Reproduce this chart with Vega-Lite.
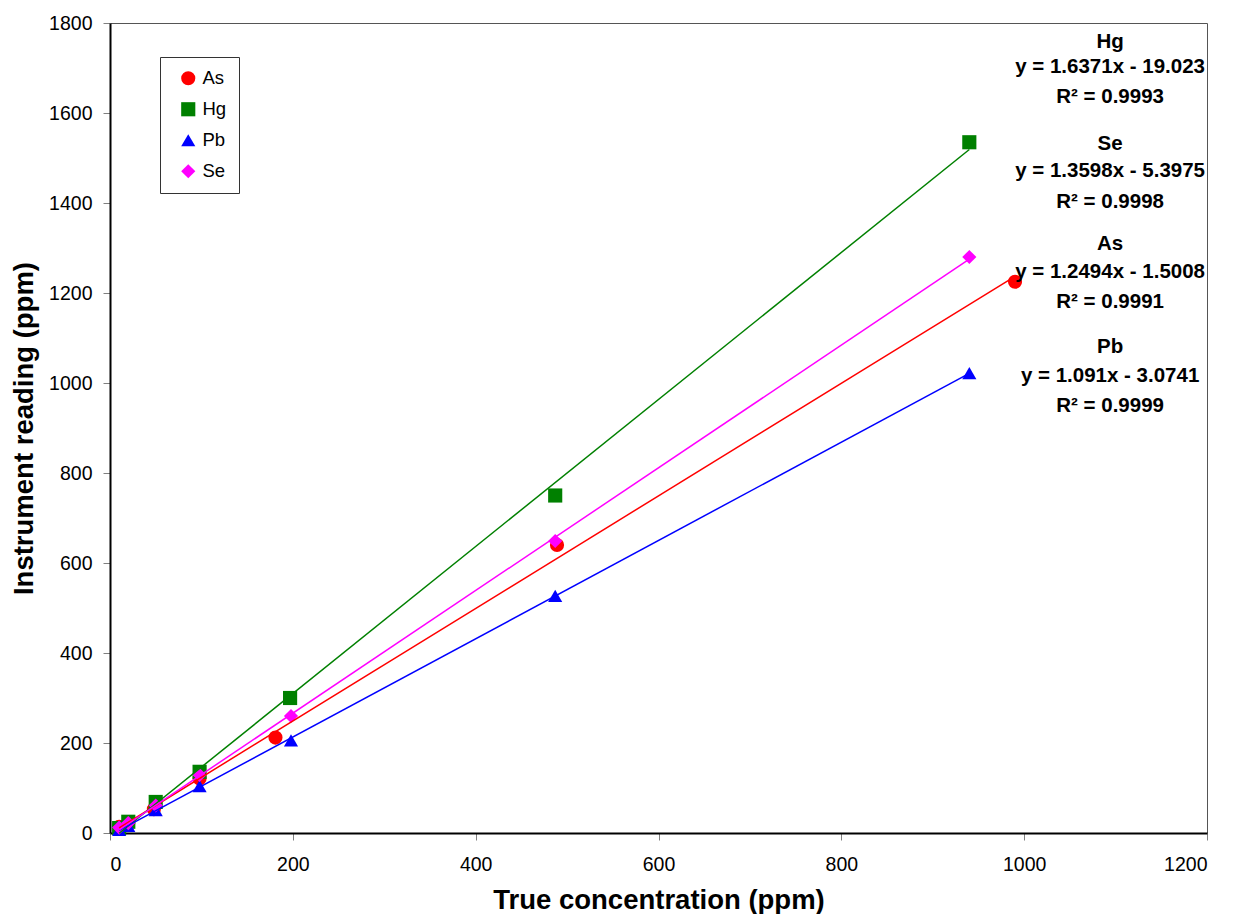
{
  "$schema": "https://vega.github.io/schema/vega-lite/v6.json",
  "width": 1097,
  "height": 810,
  "autosize": {"type": "none"},
  "padding": {"left": 110, "top": 23, "right": 27, "bottom": 81},
  "background": "white",
  "config": {
    "font": "Liberation Sans",
    "view": {"stroke": "#555", "strokeWidth": 1},
    "axis": {
      "grid": false,
      "domainColor": "#000",
      "domainWidth": 2,
      "tickColor": "#808080",
      "tickSize": 7,
      "tickWidth": 1,
      "labelFont": "Liberation Sans",
      "labelFontSize": 19.5,
      "labelColor": "#000",
      "format": "d",
      "titleFont": "Liberation Sans",
      "titleFontSize": 27.5,
      "titleFontWeight": "bold",
      "titleColor": "#000"
    }
  },
  "datasets": {
    "pts": [
      {"element": "As", "conc": 10, "reading": 14},
      {"element": "As", "conc": 20, "reading": 22},
      {"element": "As", "conc": 48, "reading": 53},
      {"element": "As", "conc": 98, "reading": 121},
      {"element": "As", "conc": 181, "reading": 212},
      {"element": "As", "conc": 489, "reading": 640},
      {"element": "As", "conc": 990, "reading": 1225},
      {"element": "Hg", "conc": 10, "reading": 11},
      {"element": "Hg", "conc": 20, "reading": 25},
      {"element": "Hg", "conc": 50, "reading": 69},
      {"element": "Hg", "conc": 98, "reading": 136},
      {"element": "Hg", "conc": 197, "reading": 300},
      {"element": "Hg", "conc": 487, "reading": 750},
      {"element": "Hg", "conc": 940, "reading": 1535},
      {"element": "Pb", "conc": 10, "reading": 7},
      {"element": "Pb", "conc": 20, "reading": 16},
      {"element": "Pb", "conc": 50, "reading": 51},
      {"element": "Pb", "conc": 98, "reading": 104},
      {"element": "Pb", "conc": 198, "reading": 206},
      {"element": "Pb", "conc": 487, "reading": 527},
      {"element": "Pb", "conc": 940, "reading": 1022},
      {"element": "Se", "conc": 10, "reading": 12},
      {"element": "Se", "conc": 20, "reading": 22},
      {"element": "Se", "conc": 50, "reading": 61},
      {"element": "Se", "conc": 98, "reading": 129},
      {"element": "Se", "conc": 198, "reading": 260},
      {"element": "Se", "conc": 487, "reading": 649},
      {"element": "Se", "conc": 940, "reading": 1280}
    ],
    "notes": [
      {"conc": 1094, "reading": 1744, "label": "Hg"},
      {"conc": 1094, "reading": 1688, "label": "y = 1.6371x - 19.023"},
      {"conc": 1094, "reading": 1622, "label": "R² = 0.9993"},
      {"conc": 1094, "reading": 1518, "label": "Se"},
      {"conc": 1094, "reading": 1458, "label": "y = 1.3598x - 5.3975"},
      {"conc": 1094, "reading": 1389, "label": "R² = 0.9998"},
      {"conc": 1094, "reading": 1296, "label": "As"},
      {"conc": 1094, "reading": 1233, "label": "y = 1.2494x - 1.5008"},
      {"conc": 1094, "reading": 1166, "label": "R² = 0.9991"},
      {"conc": 1094, "reading": 1066, "label": "Pb"},
      {"conc": 1094, "reading": 1003, "label": "y = 1.091x - 3.0741"},
      {"conc": 1094, "reading": 936, "label": "R² = 0.9999"}
    ]
  },
  "layer": [
    {
      "data": {"name": "pts"},
      "mark": {"type": "point", "filled": true, "opacity": 1},
      "encoding": {
        "x": {
          "field": "conc",
          "type": "quantitative",
          "scale": {"domain": [0, 1200], "nice": false},
          "axis": {
            "title": "True concentration (ppm)",
            "values": [0, 200, 400, 600, 800, 1000, 1200],
            "labelPadding": 15,
            "titleY": 75,
            "titleBaseline": "alphabetic"
          }
        },
        "y": {
          "field": "reading",
          "type": "quantitative",
          "scale": {"domain": [0, 1800], "nice": false},
          "axis": {
            "title": "Instrument reading (ppm)",
            "values": [0, 200, 400, 600, 800, 1000, 1200, 1400, 1600, 1800],
            "labelPadding": 11,
            "titleX": -78,
            "titleY": 405,
            "titleBaseline": "alphabetic"
          }
        },
        "size": {
          "field": "element",
          "type": "nominal",
          "scale": {"domain": ["As", "Hg", "Pb", "Se"], "range": [200, 200, 260, 190]},
          "legend": null
        },
        "color": {
          "field": "element",
          "type": "nominal",
          "scale": {"domain": ["As", "Hg", "Pb", "Se"], "range": ["#FF0000", "#008000", "#0000FF", "#FF00FF"]},
          "legend": {
            "orient": "none", "legendX": 50, "legendY": 34, "title": null,
            "padding": 12, "symbolOffset": 7, "rowPadding": 12,
            "labelFontSize": 18.5, "labelFont": "Liberation Sans", "labelColor": "#000",
            "strokeColor": "#333", "fillColor": "white", "symbolSize": 210,
            "labelOffset": 5, "symbolStrokeWidth": 0
          }
        },
        "shape": {
          "field": "element",
          "type": "nominal",
          "scale": {"domain": ["As", "Hg", "Pb", "Se"], "range": ["circle", "square", "triangle-up", "diamond"]},
          "legend": {
            "orient": "none", "legendX": 50, "legendY": 34, "title": null,
            "padding": 12, "symbolOffset": 7, "rowPadding": 12,
            "labelFontSize": 18.5, "labelFont": "Liberation Sans", "labelColor": "#000",
            "strokeColor": "#333", "fillColor": "white", "symbolSize": 210,
            "labelOffset": 5, "symbolStrokeWidth": 0
          }
        }
      }
    },
    {
      "data": {"name": "pts"},
      "transform": [{"regression": "reading", "on": "conc", "groupby": ["element"]}],
      "mark": {"type": "line", "strokeWidth": 1.5},
      "encoding": {
        "x": {"field": "conc", "type": "quantitative"},
        "y": {"field": "reading", "type": "quantitative"},
        "color": {"field": "element", "type": "nominal", "legend": null}
      }
    },
    {
      "data": {"name": "notes"},
      "mark": {"type": "text", "fontWeight": "bold", "fontSize": 20.5, "align": "center", "baseline": "alphabetic", "color": "#000", "font": "Liberation Sans"},
      "encoding": {
        "x": {"field": "conc", "type": "quantitative"},
        "y": {"field": "reading", "type": "quantitative"},
        "text": {"field": "label", "type": "nominal"}
      }
    }
  ]
}
